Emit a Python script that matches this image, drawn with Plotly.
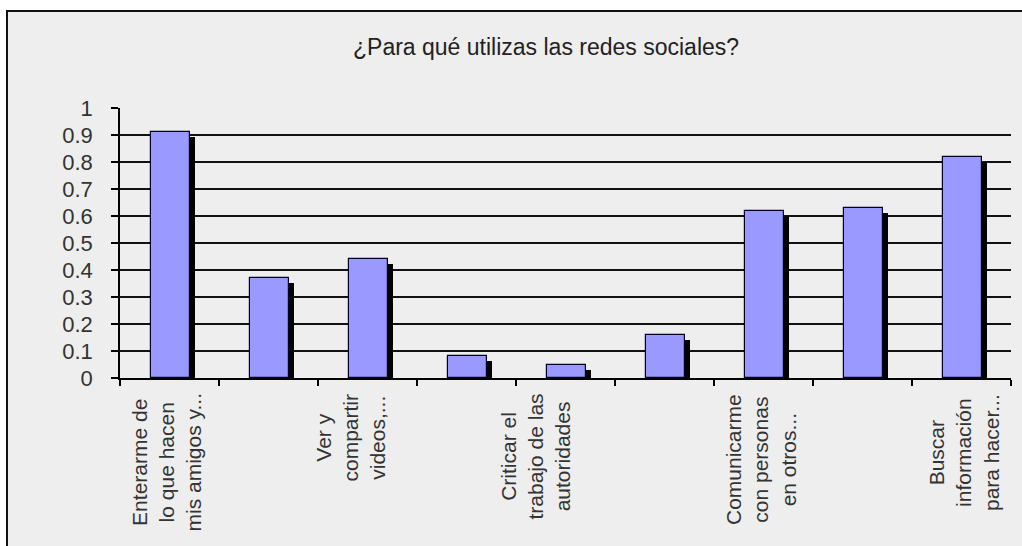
import plotly.graph_objects as go

# ---- data ----
positions = [0, 1, 2, 3, 4, 5, 6, 7, 8]
values = [0.91, 0.37, 0.44, 0.08, 0.05, 0.16, 0.62, 0.63, 0.82]
label_positions = [0, 2, 4, 6, 8]
labels = [
    "Enterarme de<br>lo que hacen<br>mis amigos y...",
    "Ver y<br>compartir<br>videos,...",
    "Criticar el<br>trabajo de las<br>autoridades",
    "Comunicarme<br>con personas<br>en otros...",
    "Buscar<br>información<br>para hacer...",
]
y_tick_vals = [0, 0.1, 0.2, 0.3, 0.4, 0.5, 0.6, 0.7, 0.8, 0.9, 1]
y_tick_text = ["0", "0.1", "0.2", "0.3", "0.4", "0.5", "0.6", "0.7", "0.8", "0.9", "1"]
title_text = "¿Para qué utilizas las redes sociales?"

# ---- styling / layout (pixels); body margin removed via post_script ----
label_xshift = [-3, -17, -30, -3, 2]
W, H = 1022, 546
L, R, T, B = 120, 11, 108, 168
plot_w = W - L - R
plot_h = H - T - B

shadow_drop = 5 / plot_h  # shadow top sits a few px lower

fig = go.Figure()
fig.add_trace(go.Bar(
    x=positions, y=[v - shadow_drop for v in values],
    width=0.4, offset=-0.14,
    marker=dict(color="#000000", line=dict(width=0)),
    hoverinfo="skip", showlegend=False,
))
fig.add_trace(go.Bar(
    x=positions, y=values,
    width=0.4, offset=-0.19,
    marker=dict(color="#9999ff", line=dict(color="#000022", width=1.2)),
    showlegend=False,
))

font_family = "Liberation Sans, Arial, sans-serif"

for p, lab, dx in zip(label_positions, labels, label_xshift):
    fig.add_annotation(
        x=p, xref="x", y=0, yref="paper", yshift=-14, xshift=dx,
        text=lab, textangle=-90, showarrow=False,
        xanchor="center", yanchor="top", align="center",
        font=dict(family=font_family, size=21, color="#333333"),
    )

fig.add_annotation(
    x=(546 - L) / plot_w, xref="paper", y=1 + (T - 47) / plot_h, yref="paper",
    text=title_text, showarrow=False, xanchor="center", yanchor="middle",
    font=dict(family=font_family, size=23, color="#222222"),
)

fig.add_shape(
    type="rect", xref="paper", yref="paper", layer="below",
    x0=(7 - L) / plot_w, x1=(W + 20 - L) / plot_w,
    y0=-(B + 30) / plot_h, y1=1 + (T - 11) / plot_h,
    fillcolor="#eeeeee", line=dict(color="#111111", width=2),
)

fig.update_xaxes(
    range=[-0.5, 8.5],
    tickvals=[i - 0.5 for i in range(10)],
    ticktext=[""] * 10,
    ticks="outside", ticklen=6, tickcolor="#000000", tickwidth=1.5,
    showline=True, linecolor="#000000", linewidth=1.5,
    showgrid=False, zeroline=False,
)
fig.update_yaxes(
    range=[0, 1],
    tickvals=y_tick_vals, ticktext=y_tick_text,
    ticks="outside", ticklen=7, tickcolor="#000000", tickwidth=1.5,
    ticklabelstandoff=14,
    showline=True, linecolor="#000000", linewidth=1.5,
    showgrid=True, gridcolor="#111111", gridwidth=1.5,
    zeroline=False,
    tickfont=dict(family=font_family, size=22, color="#333333"),
)

fig.update_layout(
    width=W, height=H,
    margin=dict(l=L, r=R, t=T, b=B, pad=0),
    paper_bgcolor="#ffffff", plot_bgcolor="rgba(0,0,0,0)",
    barmode="overlay", bargap=0,
    showlegend=False,
)

fig.write_html(
    "out.html",
    config={"displayModeBar": False},
    post_script="document.body.style.margin='0px';document.body.style.overflow='hidden';",
)
